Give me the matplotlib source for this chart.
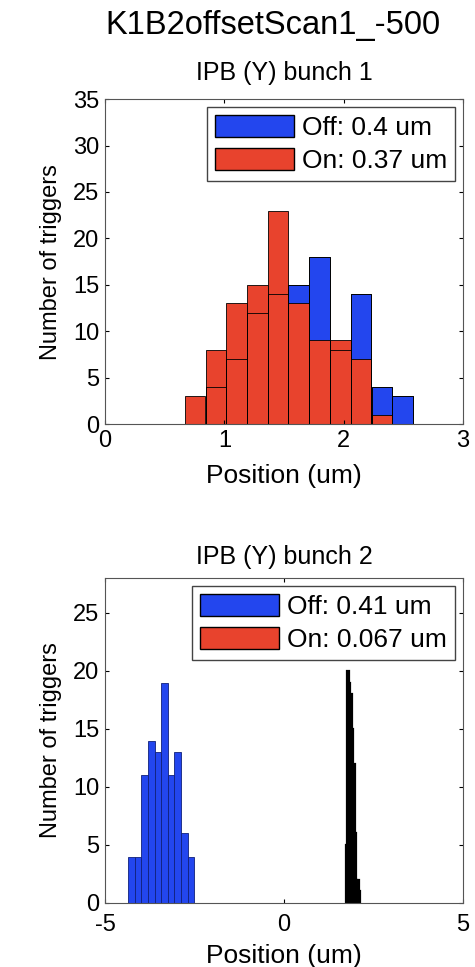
import numpy as np
import matplotlib.pyplot as plt
from matplotlib.patches import Patch

plt.rcParams['font.family'] = ['Liberation Sans', 'DejaVu Sans']

# bunch 1 histogram (bin centres in um, counts)
c1 = [0.755, 0.93, 1.10, 1.275, 1.45, 1.62, 1.80, 1.97, 2.145, 2.32, 2.49]
w1 = 0.174
off1 = [0, 4, 7, 12, 14, 15, 18, 8, 14, 4, 3]
on1 = [3, 8, 13, 15, 23, 13, 9, 9, 7, 1, 0]

# bunch 2 histogram
c2_off = [-4.258, -4.074, -3.89, -3.706, -3.522, -3.338, -3.154, -2.97, -2.786, -2.602]
w2_off = 0.184
off2 = [4, 4, 11, 14, 13, 19, 11, 13, 6, 4]
c2_on = [1.75, 1.79, 1.83, 1.87, 1.91, 1.95, 1.99, 2.03, 2.07, 2.11]
w2_on = 0.041
on2 = [5, 20, 19, 18, 15, 12, 6, 2, 2, 1]

blue = '#2346ee'
red = '#e8432d'

fig = plt.figure(figsize=(4.75, 9.67), dpi=100)
fig.suptitle('K1B2offsetScan1_-500', fontsize=23.5, x=0.575, y=0.99)


def style(ax, xpad):
    ax.tick_params(direction='in', length=3, top=True, right=True, labelsize=17)
    ax.tick_params(axis='x', pad=xpad)
    ax.tick_params(axis='y', pad=4)
    for s in ax.spines.values():
        s.set_color('#555555')
        s.set_linewidth(0.8)


def add_legend(ax, labels):
    ax.legend(handles=[Patch(facecolor=blue, edgecolor='black', label=labels[0]),
                       Patch(facecolor=red, edgecolor='black', label=labels[1])],
              loc='upper right', fontsize=19, handlelength=3.0, handleheight=0.9,
              fancybox=False, edgecolor='#444444', framealpha=1,
              borderaxespad=0.3, handletextpad=0.3, labelspacing=0.3,
              borderpad=0.3)


ax1 = fig.add_axes([0.221, 0.5615, 0.754, 0.336])
ax1.bar(c1, off1, width=w1, color=blue, edgecolor='black', linewidth=0.6)
ax1.bar(c1, on1, width=w1, color=red, edgecolor='black', linewidth=0.6)
ax1.bar(c1, off1, width=w1, fill=False, edgecolor='black', linewidth=0.6)
ax1.set_xlim(0, 3)
ax1.set_ylim(0, 35)
ax1.set_xticks([0, 1, 2, 3])
ax1.set_yticks(np.arange(0, 36, 5))
ax1.set_title('IPB (Y) bunch 1', fontsize=18, pad=14)
ax1.set_xlabel('Position (um)', fontsize=19, labelpad=9)
ax1.set_ylabel('Number of triggers', fontsize=17, labelpad=8)
style(ax1, 4)
add_legend(ax1, ['Off: 0.4 um', 'On: 0.37 um'])

ax2 = fig.add_axes([0.221, 0.0662, 0.754, 0.336])
ax2.bar(c2_off, off2, width=w2_off, color=blue, edgecolor='#10207a', linewidth=0.6)
ax2.bar(c2_on, on2, width=w2_on, color=red, edgecolor='black', linewidth=1.6)
ax2.set_xlim(-5, 5)
ax2.set_ylim(0, 28)
ax2.set_xticks([-5, 0, 5])
ax2.set_xticklabels(['-5', '0', '5'])
ax2.set_yticks(np.arange(0, 26, 5))
ax2.set_title('IPB (Y) bunch 2', fontsize=18, pad=10)
ax2.set_xlabel('Position (um)', fontsize=19, labelpad=6)
ax2.set_ylabel('Number of triggers', fontsize=17, labelpad=8)
style(ax2, 8)
add_legend(ax2, ['Off: 0.41 um', 'On: 0.067 um'])

plt.savefig('out.png', dpi=100)
